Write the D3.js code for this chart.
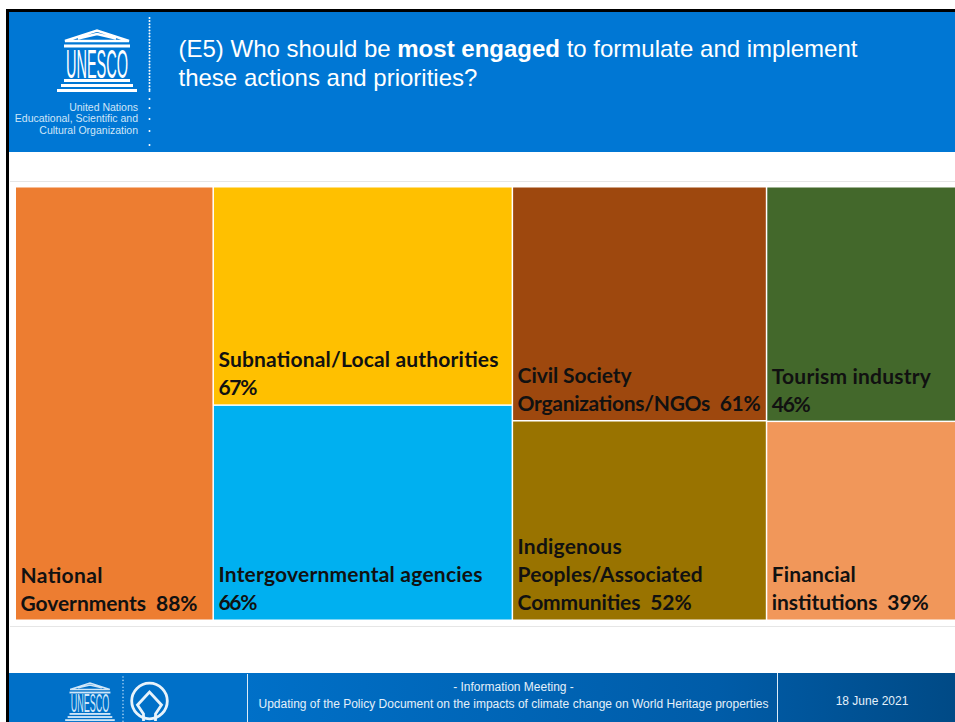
<!DOCTYPE html>
<html>
<head>
<meta charset="utf-8">
<script src="https://cdn.jsdelivr.net/npm/d3@7"></script>
<style>
    html, body { margin: 0; padding: 0; background: #fff; overflow: hidden; }
    svg { display: block; }
</style>
</head>
<body>
<svg id="vis"></svg>
<script>
// treemap data, one entry per cell, columns say which cells share a column
const categories = ["National Governments", "Subnational/Local authorities", "Intergovernmental agencies",
    "Civil Society Organizations/NGOs", "Indigenous Peoples/Associated Communities", "Tourism industry", "Financial institutions"];
const values = [88, 67, 66, 61, 52, 46, 39];
const columns = [0, 1, 1, 2, 2, 3, 3];
const colors = ["#ed7d31", "#ffc000", "#00b0f0", "#9e480e", "#997300", "#43682b", "#f1975a"];
const labelLines = [
    ["National", "Governments  88%"],
    ["Subnational/Local authorities", "67%"],
    ["Intergovernmental agencies", "66%"],
    ["Civil Society", "Organizations/NGOs  61%"],
    ["Indigenous", "Peoples/Associated", "Communities  52%"],
    ["Tourism industry", "46%"],
    ["Financial", "institutions  39%"]
];
const titleLine1 = ["(E5) Who should be ", "most engaged", " to formulate and implement"];
const titleLine2 = "these actions and priorities?";
const orgLines = ["United Nations", "Educational, Scientific and", "Cultural Organization"];
const footerLines = ["- Information Meeting -", "Updating of the Policy Document on the impacts of climate change on World Heritage properties"];
const footerDate = "18 June 2021";

const WIDTH = 955;
const HEIGHT = 722;
const SANS = "'Liberation Sans', Arial, sans-serif";
// Lato is a bit off from the slide's font, so each line is fitted to its width
const LABEL_WIDTHS = [[82, 177], [280, 39], [264, 39], [114, 243], [104, 185, 174], [159, 39], [84, 157]];

const svg = d3.select("#vis").attr("width", WIDTH).attr("height", HEIGHT);

const defs = svg.append("defs");
const grad = defs.append("linearGradient").attr("id", "footGrad")
    .attr("gradientUnits", "userSpaceOnUse")
    .attr("x1", 9).attr("y1", 0).attr("x2", 955).attr("y2", 0);
grad.append("stop").attr("offset", "0.25").attr("stop-color", "#0070c8");
grad.append("stop").attr("offset", "0.75").attr("stop-color", "#005ca8");
grad.append("stop").attr("offset", "1").attr("stop-color", "#004a86");

// slide frame
svg.append("rect").attr("x", 6).attr("y", 9).attr("width", 949).attr("height", 3).attr("fill", "#000");
svg.append("rect").attr("x", 6).attr("y", 9).attr("width", 3).attr("height", 713).attr("fill", "#000");

// header
svg.append("rect").attr("x", 9).attr("y", 12).attr("width", 946).attr("height", 140).attr("fill", "#0077d4");

// temple logo, drawn at 1:1 from its top left corner
function drawLogo(g, color) {
    g.append("path").attr("fill", "none").attr("stroke", color).attr("stroke-width", 2.4)
        .attr("d", "M1,12 L33,1.5 L65,12 Z M14,9.5 L33,5 L52,9.5");
    g.append("rect").attr("x", 0).attr("y", 15.5).attr("width", 66).attr("height", 3).attr("fill", color);
    // squeezed with a transform so the letters stay inside the temple
    g.append("text").text("UNESCO")
        .attr("transform", "translate(33,49) scale(0.354,1)")
        .attr("text-anchor", "middle")
        .attr("font-family", "'Liberation Sans', sans-serif")
        .attr("font-size", 41)
        .attr("fill", color);
    g.append("rect").attr("x", 0).attr("y", 50).attr("width", 66).attr("height", 3).attr("fill", color);
    g.append("rect").attr("x", -3).attr("y", 55).attr("width", 72).attr("height", 3).attr("fill", color);
    g.append("rect").attr("x", -7).attr("y", 60).attr("width", 80).attr("height", 3).attr("fill", color);
}
drawLogo(svg.append("g").attr("transform", "translate(64,29)"), "#fff");

svg.append("g").attr("fill", "#cfe6f8").attr("font-family", SANS).attr("font-size", 10.5).attr("text-anchor", "end")
    .selectAll("text").data(orgLines).join("text")
    .attr("x", 138)
    .attr("y", (d, i) => 111 + i * 11.3)
    .text(d => d);

// dotted rule beside the logo
const dotYs = d3.range(18, 92, 3.1).concat([91, 99, 108, 119, 131, 145]);
svg.append("g").attr("fill", "#fff").selectAll("circle").data(dotYs).join("circle")
    .attr("cx", 149.5).attr("cy", d => d).attr("r", 1);

// title
const title = svg.append("g").attr("fill", "#fff").attr("font-family", SANS).attr("font-size", 24);
const t1 = title.append("text").attr("x", 178.5).attr("y", 57);
titleLine1.forEach((s, i) => {
    t1.append("tspan").attr("font-weight", i === 1 ? "bold" : "normal").text(s);
});
title.append("text").attr("x", 178.5).attr("y", 86).text(titleLine2);

// chart frame lines
svg.append("g").attr("stroke", "#e6e6e6").attr("stroke-width", 1)
    .selectAll("line").data([181, 626]).join("line")
    .attr("x1", 10).attr("x2", WIDTH).attr("y1", d => d + 0.5).attr("y2", d => d + 0.5);

// treemap
const rows = categories.map((name, i) => ({ name, value: values[i], col: columns[i], color: colors[i], lines: labelLines[i], widths: LABEL_WIDTHS[i] }));
const root = d3.hierarchy({ children: d3.groups(rows, d => d.col).map(([k, v]) => ({ children: v })) })
    .sum(d => d.value || 0);
d3.treemap().tile(d3.treemapSliceDice).size([941, 432]).paddingInner(1.5)(root);

const chart = svg.append("g").attr("transform", "translate(16,187.5)");
const cell = chart.selectAll("g").data(root.leaves()).join("g")
    .attr("transform", d => `translate(${d.x0},${d.y0})`);
cell.append("rect")
    .attr("width", d => d.x1 - d.x0)
    .attr("height", d => d.y1 - d.y0)
    .attr("fill", d => d.data.color);
cell.each(function (d) {
    const n = d.data.lines.length;
    d3.select(this).selectAll("text").data(d.data.lines).join("text")
        .attr("x", 4.5)
        .attr("y", (s, i) => d.y1 - d.y0 - 9 - (n - 1 - i) * 28)
        .style("white-space", "pre")
        .attr("font-family", "Lato, sans-serif")
        .attr("font-weight", "bold")
        .attr("font-size", 21)
        .attr("textLength", (s, i) => d.data.widths[i])
        .attr("lengthAdjust", "spacing")
        .attr("fill", "#111")
        .text(s => s);
});

// footer
svg.append("rect").attr("x", 9).attr("y", 673).attr("width", 946).attr("height", 49).attr("fill", "url(#footGrad)");
drawLogo(svg.append("g").attr("transform", "translate(69.5,682) scale(0.62)"), "#cfe6f8");
svg.append("g").attr("fill", "#a8d2f2").selectAll("circle").data(d3.range(677, 722, 3.4)).join("circle")
    .attr("cx", 123).attr("cy", d => d).attr("r", 0.8);

// world heritage emblem
const wh = svg.append("g").attr("transform", "translate(149.5,701)").attr("fill", "none").attr("stroke", "#e8f3fb").attr("stroke-width", 2.8);
wh.append("circle").attr("r", 17.8);
wh.append("path").attr("d", "M-6,20 L-6,13 L-12,4 L0,-9 L12,4 L6,13 L6,20");

svg.append("line").attr("x1", 247.5).attr("x2", 247.5).attr("y1", 674).attr("y2", 722).attr("stroke", "#dcecf8");
svg.append("line").attr("x1", 777.5).attr("x2", 777.5).attr("y1", 673).attr("y2", 722).attr("stroke", "#dcecf8");

const foot = svg.append("g").attr("fill", "#e4f0fa").attr("font-family", SANS).attr("font-size", 12).attr("text-anchor", "middle");
foot.selectAll("text.f").data(footerLines).join("text").attr("class", "f")
    .attr("x", 513.5)
    .attr("y", (d, i) => 691 + i * 17)
    .text(d => d);
foot.append("text").attr("x", 872).attr("y", 705).text(footerDate);
</script>
</body>
</html>
